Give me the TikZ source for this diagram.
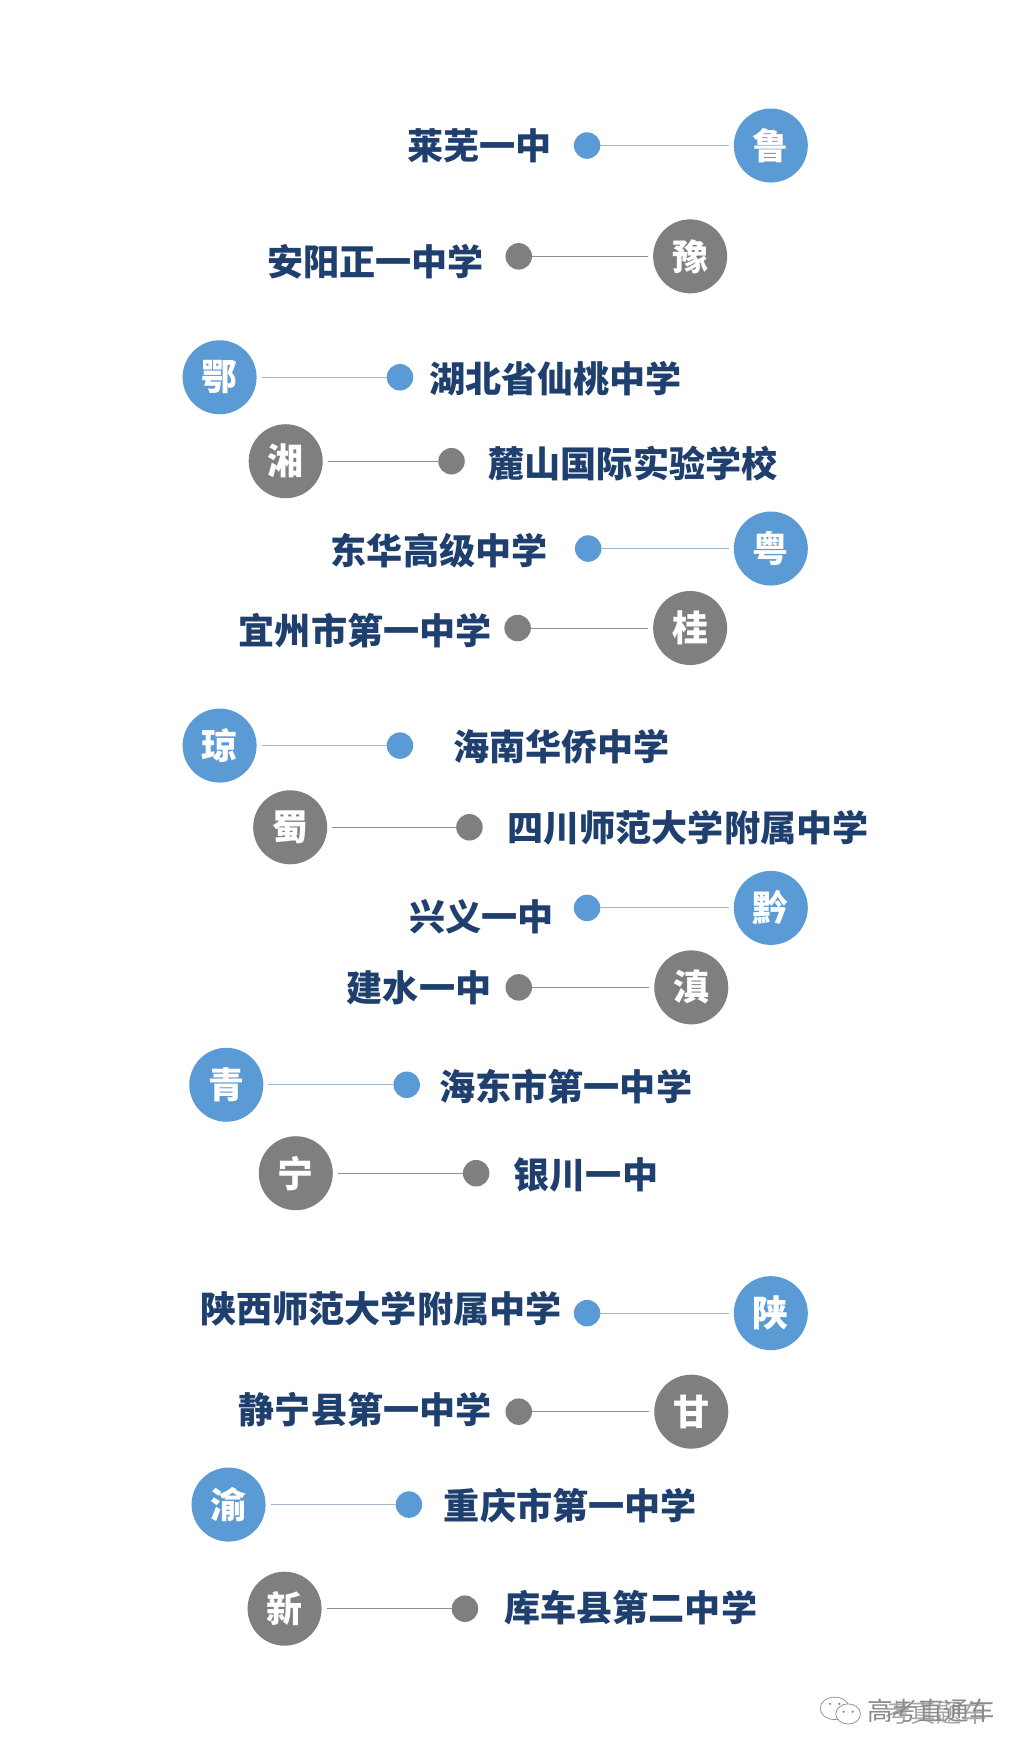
\documentclass[tikz,border=0pt]{standalone}
\usepackage{fontspec}
\setmainfont{Noto Sans CJK SC}
\definecolor{provblue}{HTML}{5B9BD5}
\definecolor{provgray}{HTML}{7F7F7F}
\definecolor{schoolnavy}{HTML}{1F3F6E}
\definecolor{lineblue}{HTML}{A4B8CC}
\definecolor{linegray}{HTML}{8F8F8F}
\definecolor{markgray}{HTML}{8A8A8A}
\tikzset{
  provbase/.style={circle,inner sep=0pt,minimum size=74pt,text=white,font=\bfseries\fontsize{36}{36}\selectfont,outer sep=5pt},
  dotbase/.style={circle,inner sep=0pt,minimum size=26.5pt,outer sep=0pt},
  bluep/.style={provbase,fill=provblue},
  grayp/.style={provbase,fill=provgray},
  bluedot/.style={dotbase,fill=provblue},
  graydot/.style={dotbase,fill=provgray},
  blueline/.style={draw=lineblue,line width=1pt},
  grayline/.style={draw=linegray,line width=1pt},
  school/.style={text=schoolnavy,inner sep=0pt,font=\bfseries\fontsize{36.1}{36.1}\selectfont},
  wmtext/.style={text=markgray,inner sep=0pt,font=\fontsize{25.5}{25.5}\selectfont},
  bubble/.style={draw=markgray,line width=0.7pt},
}
% #1 id, #2 colour word, #3 circle pos, #4 province, #5 dot pos, #6 text pos, #7 school
\newcommand{\provrow}[7]{%
  \node[#2p] (c#1) at (#3) {#4};
  \node[#2dot] (d#1) at (#5) {};
  \node[school] (t#1) at (#6) {#7};
  \draw[#2line] (c#1) -- (d#1);
}
\begin{document}
\begin{tikzpicture}[x=1.1204pt,y=-1.1195pt]
\useasboundingbox (0,0) rectangle (914,1567.7);
\fill[white] (0,0) rectangle (914,1567.7);
\provrow{a}{blue}{688,130}{鲁}{524,130}{428,130}{莱芜一中}
\provrow{b}{gray}{616,229}{豫}{463,229}{335,234}{安阳正一中学}
\provrow{c}{blue}{196,337}{鄂}{357,337}{496,338}{湖北省仙桃中学}
\provrow{e}{gray}{255,412}{湘}{403,412}{565,414}{麓山国际实验学校}
\provrow{f}{blue}{688,490}{粤}{525,490}{392,492}{东华高级中学}
\provrow{g}{gray}{616,561}{桂}{462,561}{326,563}{宜州市第一中学}
\provrow{h}{blue}{196,666}{琼}{357,666}{501,667}{海南华侨中学}
\provrow{i}{gray}{259,739}{蜀}{419,739}{614,739}{四川师范大学附属中学}
\provrow{j}{blue}{688,811}{黔}{524,811}{430,819}{兴义一中}
\provrow{k}{gray}{617,882}{滇}{463,882}{374,882}{建水一中}
\provrow{l}{blue}{202,969}{青}{363,969}{505,971}{海东市第一中学}
\provrow{m}{gray}{264,1048}{宁}{425,1048}{523,1050}{银川一中}
\provrow{n}{blue}{688,1173}{陕}{524,1173}{340,1169}{陕西师范大学附属中学}
\provrow{o}{gray}{617,1261}{甘}{463,1261}{326,1259}{静宁县第一中学}
\provrow{p}{blue}{204,1344}{渝}{365,1344}{509,1345}{重庆市第一中学}
\provrow{q}{gray}{254,1437}{新}{415,1437}{563,1436}{库车县第二中学}
% watermark
\draw[bubble] (745,1526) ellipse (13 and 10);
\draw[bubble,fill=white] (757,1531) ellipse (11 and 9);
\fill[markgray] (753,1529) circle (1.1) (761,1529) circle (1.1) (741,1522) circle (1.1) (749,1522) circle (1.1);
\node[wmtext,anchor=west] (wm1) at (774,1528) {高考直通车};
\node[wmtext,anchor=west,opacity=0.75] (wm2) at (790,1530) {考真题车};
\end{tikzpicture}
\end{document}
